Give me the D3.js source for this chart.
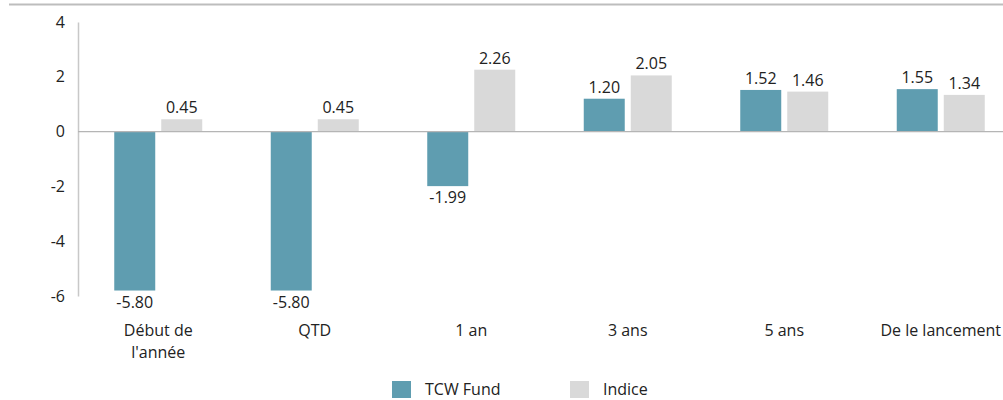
<!DOCTYPE html>
<html>
<head>
<meta charset="utf-8">
<script src="https://cdn.jsdelivr.net/npm/d3@7"></script>
<style>
  body { margin: 0; background: #fff; }
  svg text { font-family: "Open Sans", Lato, sans-serif; fill: #222; }
</style>
</head>
<body>
<svg></svg>
<script>
var width = 1003,
    height = 400

var categories = [["Début de", "l'année"], ["QTD"], ["1 an"], ["3 ans"], ["5 ans"], ["De le lancement"]];
var seriesNames = ["TCW Fund", "Indice"];
var fundValues = [-5.80, -5.80, -1.99, 1.20, 1.52, 1.55];
var indexValues = [0.45, 0.45, 2.26, 2.05, 1.46, 1.34];
var yTicks = [4, 2, 0, -2, -4, -6];

var colors = { "TCW Fund": "#5f9db0", "Indice": "#d9d9d9" };

var svg = d3.select("svg")
    .attr("width", width)
    .attr("height", height);

var x = d3.scaleBand()
    .domain(d3.range(categories.length))
    .range([80, 1019]);

var xInner = d3.scaleBand()
    .domain(seriesNames)
    .range([-44, 44])
    .paddingInner(0.128);

var y = d3.scaleLinear()
    .domain([-6, 4])
    .range([296, 22]);

// top rule
svg.append("line")
    .attr("x1", 9).attr("x2", width)
    .attr("y1", 4.5).attr("y2", 4.5)
    .attr("stroke", "#bdbdbd")
    .attr("stroke-width", 2);

// y axis
var yAxis = svg.append("g")
    .attr("transform", "translate(78,0)")
    .call(d3.axisLeft(y).tickValues(yTicks).tickSize(0).tickPadding(13)
        .tickFormat(function (d) { return String(d); }));
yAxis.select(".domain")
    .attr("stroke", "#c8c8c8")
    .attr("stroke-width", 1.5);
yAxis.selectAll("text")
    .style("font-size", "16px")
    .style("font-family", "\"Open Sans\", Lato, sans-serif")
    .attr("fill", "#222");

var rows = categories.map(function (c, i) {
    return [
        { cat: i, series: "TCW Fund", value: fundValues[i] },
        { cat: i, series: "Indice", value: indexValues[i] }
    ];
});

var group = svg.append("g")
    .selectAll("g")
    .data(rows)
    .enter()
    .append("g")
    .attr("transform", function (d, i) { return "translate(" + (x(i) + x.bandwidth() / 2) + ",0)"; });

group.selectAll("rect")
    .data(function (d) { return d; })
    .enter()
    .append("rect")
    .attr("x", function (d) { return xInner(d.series); })
    .attr("width", xInner.bandwidth())
    .attr("y", function (d) { return y(Math.max(0, d.value)); })
    .attr("height", function (d) { return Math.abs(y(d.value) - y(0)); })
    .attr("fill", function (d) { return colors[d.series]; });

group.selectAll("text.val")
    .data(function (d) { return d; })
    .enter()
    .append("text")
    .attr("class", "val")
    .attr("x", function (d) { return xInner(d.series) + xInner.bandwidth() / 2; })
    .attr("y", function (d) { return d.value >= 0 ? y(d.value) - 6 : y(d.value) + 17; })
    .attr("text-anchor", "middle")
    .style("font-size", "16px")
    .text(function (d) { return d.value.toFixed(2); });

// zero line
svg.append("line")
    .attr("x1", 78).attr("x2", width)
    .attr("y1", y(0)).attr("y2", y(0))
    .attr("stroke", "#b5b5b5")
    .attr("stroke-width", 1.2);

// category labels
var catLabel = svg.append("g")
    .selectAll("text")
    .data(categories)
    .enter()
    .append("text")
    .attr("x", function (d, i) { return x(i) + x.bandwidth() / 2; })
    .attr("y", 336)
    .attr("text-anchor", "middle")
    .style("font-size", "16px");

catLabel.selectAll("tspan")
    .data(function (d) { return d; })
    .enter()
    .append("tspan")
    .attr("x", function () { return d3.select(this.parentNode).attr("x"); })
    .attr("dy", function (d, i) { return i ? 22 : 0; })
    .text(function (d) { return d; });

// legend
var legendX = [392, 570];
var legend = svg.append("g")
    .selectAll("g")
    .data(seriesNames)
    .enter()
    .append("g")
    .attr("transform", function (d, i) { return "translate(" + legendX[i] + ",381)"; });

legend.append("rect")
    .attr("width", 19)
    .attr("height", 17)
    .attr("fill", function (d) { return colors[d]; });

legend.append("text")
    .attr("x", 33)
    .attr("y", 14)
    .style("font-size", "16px")
    .text(function (d) { return d; });
</script>
</body>
</html>
